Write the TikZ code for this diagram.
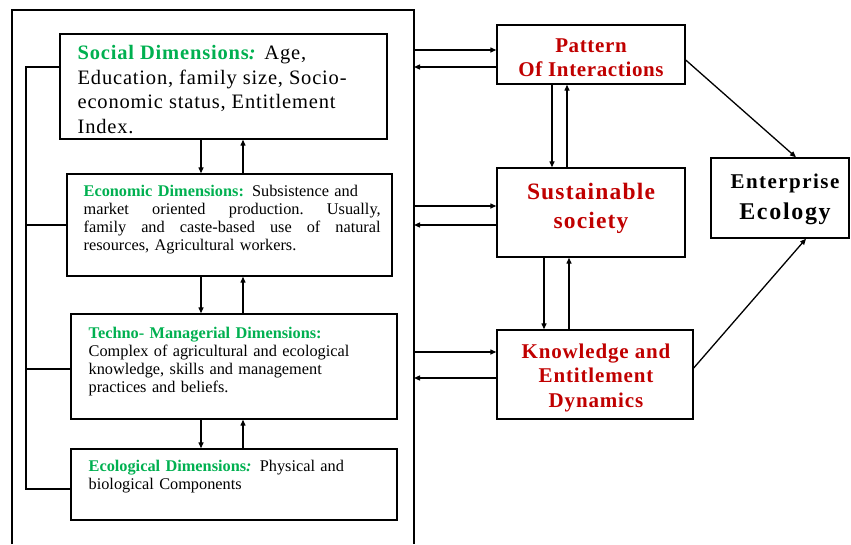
\documentclass[tikz,border=0pt]{standalone}
\usepackage{fontspec}
\setmainfont{Liberation Serif}
\usetikzlibrary{arrows.meta}
\definecolor{dimgreen}{RGB}{0,176,80}
\definecolor{outred}{RGB}{192,0,0}
\newcommand{\spreadline}[1]{\leavevmode\hbox to 297pt{#1}}
\begin{document}
\begin{tikzpicture}[x=1pt,y=-1pt,line width=1.3pt,
  box/.style={draw,line width=1.4pt,inner sep=0pt},
  arr/.style={-{Triangle[length=6pt,width=5pt]}},
  bigtext/.style={inner sep=0pt,align=left,anchor=north west,
    font=\fontsize{20.5}{24.5}\selectfont\addfontfeatures{LetterSpace=4}},
  smalltext/.style={inner sep=0pt,align=left,anchor=north west,text width=300pt,
    font=\fontsize{16.3}{17.7}\selectfont},
  redtext/.style={inner sep=0pt,align=center,anchor=north,text=outred,
    font=\bfseries\fontsize{21}{24.5}\selectfont\addfontfeatures{LetterSpace=3}}]
\useasboundingbox (0,0) rectangle (851,544);

% open frame around the four dimension boxes
\coordinate (fBL) at (12,544);
\coordinate (fTL) at (12,10);
\coordinate (fTR) at (414,10);
\coordinate (fBR) at (414,544);
\draw (fBL) -- (fTL) -- (fTR) -- (fBR);

% dimension boxes
\node[box,minimum width=327pt,minimum height=105pt] (social) at (223.5,86.5) {};
\node[box,minimum width=325pt,minimum height=102pt] (econ) at (229.5,225) {};
\node[box,minimum width=326pt,minimum height=105pt] (techno) at (234,366.5) {};
\node[box,minimum width=326pt,minimum height=71pt] (ecol) at (234,484.5) {};

\node[bigtext] (socialtxt) at (77,45)
  {{\color{dimgreen}\bfseries Social Dimensions\textit{:}} Age,\\
   Education, family size, Socio-\\
   economic status, Entitlement\\
   Index.};
\node[smalltext] (econtxt) at (83,185)
  {{\color{dimgreen}\bfseries Economic Dimensions:} Subsistence and\\
   \spreadline{market\hfill oriented\hfill production.\hfill Usually,}\\
   \spreadline{family\hfill and\hfill caste-based\hfill use\hfill of\hfill natural}\\
   resources, Agricultural workers.};
\node[smalltext] (technotxt) at (88,327)
  {{\color{dimgreen}\bfseries Techno- Managerial Dimensions:}\\
   Complex of agricultural and ecological\\
   knowledge, skills and management\\
   practices and beliefs.};
\node[smalltext] (ecoltxt) at (88,460)
  {{\color{dimgreen}\bfseries Ecological Dimensions\textit{:}} Physical and\\
   biological Components};

% outcome boxes
\node[box,minimum width=188pt,minimum height=59pt] (pattern) at (591,54.5) {};
\node[box,minimum width=188pt,minimum height=89pt] (sust) at (591,212.5) {};
\node[box,minimum width=196pt,minimum height=89pt] (know) at (595,374.5) {};
\node[box,minimum width=138pt,minimum height=80pt] (ent) at (780,198) {};

\node[redtext] (patterntxt) at (591,38) {Pattern\\Of Interactions};
\node[redtext,font=\bfseries\fontsize{23.5}{29}\selectfont\addfontfeatures{LetterSpace=5}]
  (susttxt) at (591,183) {Sustainable\\society};
\node[redtext,font=\bfseries\fontsize{21}{24.5}\selectfont\addfontfeatures{LetterSpace=4}]
  (knowtxt) at (596,343) {Knowledge and\\Entitlement\\Dynamics};
\node[inner sep=0pt,align=center,anchor=north,
  font=\bfseries\fontsize{21}{31}\selectfont\addfontfeatures{LetterSpace=7}]
  (enttxt) at (785,173) {Enterprise\\{\fontsize{24}{31}\selectfont Ecology}};

% links between the dimension boxes
\coordinate (vdown) at (201,0);
\coordinate (vup) at (243,0);
\draw[arr] (social.south -| vdown) -- (econ.north -| vdown);
\draw[arr] (econ.north -| vup) -- (social.south -| vup);
\draw[arr] (econ.south -| vdown) -- (techno.north -| vdown);
\draw[arr] (techno.north -| vup) -- (econ.south -| vup);
\draw[arr] (techno.south -| vdown) -- (ecol.north -| vdown);
\draw[arr] (ecol.north -| vup) -- (techno.south -| vup);

% left bus joining all dimensions
\coordinate (b1) at (26,67);
\coordinate (b2) at (26,225);
\coordinate (b3) at (26,369);
\coordinate (b4) at (26,489);
\draw (b1 -| social.west) -- (b1) -- (b4) -- (b4 -| ecol.west);
\draw (b2) -- (b2 -| econ.west);
\draw (b3) -- (b3 -| techno.west);

% frame to outcome boxes
\coordinate (r1) at (414,50);
\coordinate (r2) at (414,67);
\coordinate (r3) at (414,206);
\coordinate (r4) at (414,225);
\coordinate (r5) at (414,352);
\coordinate (r6) at (414,378);
\draw[arr] (r1) -- (r1 -| pattern.west);
\draw[arr] (r2 -| pattern.west) -- (r2);
\draw[arr] (r3) -- (r3 -| sust.west);
\draw[arr] (r4 -| sust.west) -- (r4);
\draw[arr] (r5) -- (r5 -| know.west);
\draw[arr] (r6 -| know.west) -- (r6);

% links between outcome boxes
\coordinate (p1) at (552,0);
\coordinate (p2) at (567,0);
\coordinate (k1) at (544,0);
\coordinate (k2) at (569,0);
\draw[arr] (pattern.south -| p1) -- (sust.north -| p1);
\draw[arr] (sust.north -| p2) -- (pattern.south -| p2);
\draw[arr] (sust.south -| k1) -- (know.north -| k1);
\draw[arr] (know.north -| k2) -- (sust.south -| k2);

% towards enterprise ecology
\draw[arr] ([yshift=-5.5pt]pattern.east) -- ([xshift=16pt]ent.north);
\draw[arr] ([yshift=6.5pt]know.east) -- ([xshift=26pt]ent.south);
\end{tikzpicture}
\end{document}
